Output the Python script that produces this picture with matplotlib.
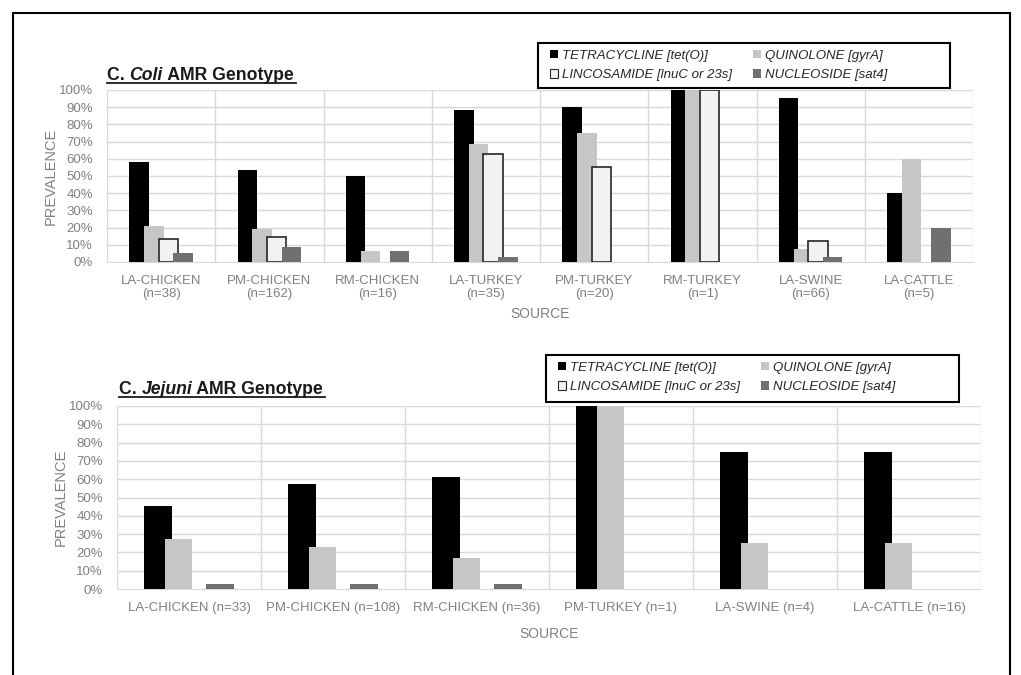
# AMR genotype prevalence, C. coli and C. jejuni, by source
import numpy as np
import matplotlib.pyplot as plt
from matplotlib.patches import Patch, Rectangle
from matplotlib.lines import Line2D
from matplotlib.ticker import FuncFormatter

plt.rcParams['font.family'] = ['Liberation Sans', 'DejaVu Sans']

# Data (prevalence, %)
series = ['TETRACYCLINE [tet(O)]', 'QUINOLONE [gyrA]',
          'LINCOSAMIDE [lnuC or 23s]', 'NUCLEOSIDE [sat4]']

coli_sources = ['LA-CHICKEN\n(n=38)', 'PM-CHICKEN\n(n=162)', 'RM-CHICKEN\n(n=16)',
                'LA-TURKEY\n(n=35)', 'PM-TURKEY\n(n=20)', 'RM-TURKEY\n(n=1)',
                'LA-SWINE\n(n=66)', 'LA-CATTLE\n(n=5)']
coli_tet = [57.9, 53.7, 50.0, 88.6, 90.0, 100.0, 95.5, 40.0]
coli_quin = [21.1, 19.1, 6.25, 68.6, 75.0, 100.0, 7.6, 60.0]
coli_linc = [13.2, 14.8, 0.0, 62.9, 55.0, 100.0, 12.1, 0.0]
coli_nuc = [5.3, 9.0, 6.25, 2.9, 0.0, 0.0, 3.0, 20.0]

jej_sources = ['LA-CHICKEN (n=33)', 'PM-CHICKEN (n=108)', 'RM-CHICKEN (n=36)',
               'PM-TURKEY (n=1)', 'LA-SWINE (n=4)', 'LA-CATTLE (n=16)']
jej_tet = [45.5, 57.4, 61.1, 100.0, 75.0, 75.0]
jej_quin = [27.3, 23.1, 16.7, 100.0, 25.0, 25.0]
jej_linc = [0.0, 0.0, 0.0, 0.0, 0.0, 0.0]
jej_nuc = [3.0, 2.8, 2.8, 0.0, 0.0, 0.0]

colors = ['#000000', '#c6c6c6', '#f2f2f2', '#707070']
edges = [None, None, '#262626', None]
grid_c = '#d9d9d9'
text_c = '#808080'

W, H = 1021, 675
fig = plt.figure(figsize=(W / 100, H / 100), dpi=100)


def px(x, y):
    return x / W, 1 - y / H


def draw_chart(ax, labels, values, width, step):
    n = len(labels)
    x = np.arange(n)
    for i, vals in enumerate(values):
        v = np.array(vals) / 100.0
        off = (i - 1.5) * step
        if edges[i]:
            lw = [1.2 if val > 0 else 0 for val in v]
            ax.bar(x + off, v, width, color=colors[i], edgecolor=edges[i],
                   linewidth=lw, zorder=3)
        else:
            ax.bar(x + off, v, width, color=colors[i], linewidth=0, zorder=3)
    ax.set_xlim(-0.5, n - 0.5)
    ax.set_ylim(0, 1)
    ax.set_yticks(np.arange(0, 1.01, 0.1))
    ax.yaxis.set_major_formatter(FuncFormatter(lambda v, p: '%d%%' % round(v * 100)))
    ax.set_xticks(x)
    ax.set_xticklabels(labels)
    ax.tick_params(length=0, labelsize=9.5, labelcolor=text_c)
    ax.tick_params(axis='y', pad=10)
    ax.tick_params(axis='x', pad=9)
    for yv in np.arange(0.1, 1.01, 0.1):
        ax.axhline(yv, color=grid_c, lw=1, zorder=1)
    for xv in np.arange(-0.5, n, 1.0):
        ax.axvline(xv, color=grid_c, lw=1, zorder=1)
    for s in ['top', 'right', 'left']:
        ax.spines[s].set_visible(False)
    ax.spines['bottom'].set_color(grid_c)
    ax.set_xlabel('SOURCE', fontsize=10, color=text_c, labelpad=5)
    ax.set_ylabel('PREVALENCE', fontsize=10.5, color=text_c, labelpad=1)


def legend(ax, box):
    # box = (left, top, right, bottom) in pixels
    l, t, r, b = box
    handles = []
    for i in range(4):
        handles.append(Patch(facecolor=colors[i],
                             edgecolor=edges[i] if edges[i] else colors[i],
                             linewidth=0.8 if edges[i] else 0))
    order = [0, 2, 1, 3]  # matplotlib fills columns first
    leg = ax.legend([handles[k] for k in order], [series[k] for k in order],
                    ncol=2, loc='upper left', bbox_to_anchor=px(l + 6, t + 1),
                    bbox_transform=fig.transFigure, frameon=False,
                    handlelength=0.6, handleheight=0.6,
                    handletextpad=0.3, columnspacing=1.6, labelspacing=0.55,
                    borderpad=0.45, borderaxespad=0,
                    prop={'style': 'italic', 'size': 9.5})
    for tx in leg.get_texts():
        tx.set_color('#262626')
    fig.add_artist(Rectangle(px(l, b), (r - l) / W, (b - t) / H,
                             transform=fig.transFigure, fill=False,
                             edgecolor='black', lw=1.5))
    return leg


def title(parts, x, y, size=12.7):
    r = fig.canvas.get_renderer()
    x0, yy = px(x, y)
    xx = x0
    for s, st in parts:
        t = fig.text(xx, yy, s, fontsize=size, fontweight='bold', style=st,
                     va='baseline', ha='left', color='#1a1a1a')
        bb = t.get_window_extent(r)
        xx += bb.width / W
    fig.add_artist(Line2D([x0, xx + 2 / W], [yy - 3 / H, yy - 3 / H],
                          color='#1a1a1a', lw=1.3))


# top chart: C. coli
ax1 = fig.add_axes([107 / W, 1 - 262 / H, 866 / W, 172 / H])
draw_chart(ax1, coli_sources, [coli_tet, coli_quin, coli_linc, coli_nuc], 0.18, 0.135)
legend(ax1, (538, 43, 950, 88))

# bottom chart: C. jejuni
ax2 = fig.add_axes([117 / W, 1 - 589 / H, 864 / W, 183 / H])
draw_chart(ax2, jej_sources, [jej_tet, jej_quin, jej_linc, jej_nuc], 0.19, 0.143)
ax2.xaxis.labelpad = 10
legend(ax2, (546, 355, 959, 402))

fig.canvas.draw()
title([('C. ', 'normal'), ('Coli', 'italic'), (' AMR Genotype', 'normal')], 107, 80)
title([('C. ', 'normal'), ('Jejuni', 'italic'), (' AMR Genotype', 'normal')], 119, 394)

# outer frame
fig.add_artist(Rectangle((13 / W, -0.05), (1010 - 13) / W, 1.05 - 13 / H,
                         transform=fig.transFigure, fill=False,
                         edgecolor='black', lw=1.5))

fig.savefig('out.png', dpi=100)
